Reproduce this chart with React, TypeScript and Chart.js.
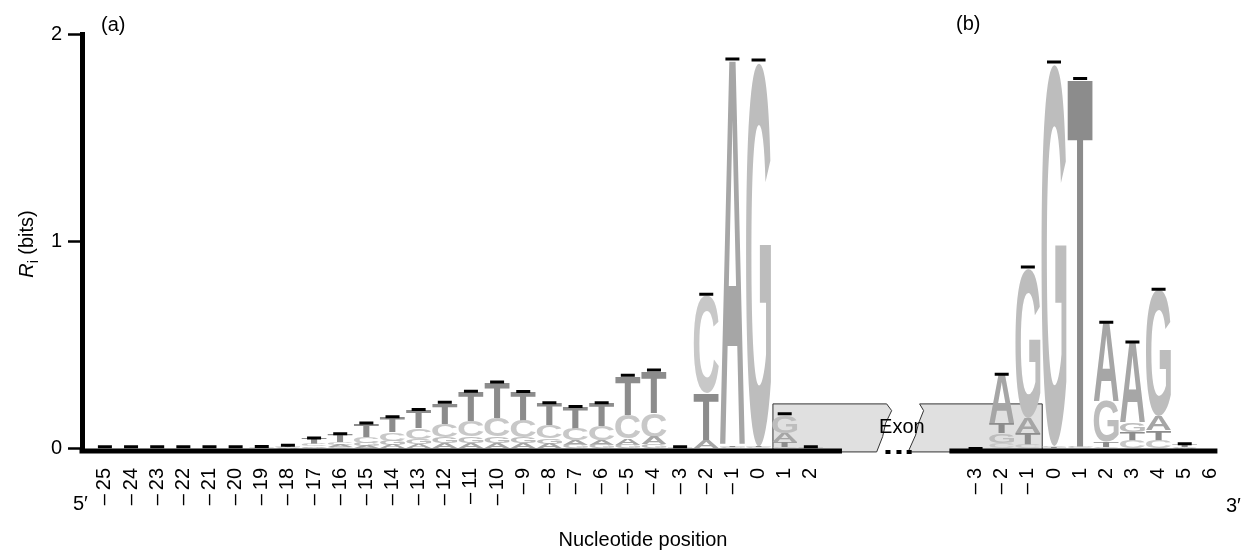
import React, { useEffect, useRef } from 'react';
import { Chart, registerables } from 'chart.js';

Chart.register(...registerables);

const FONT = '"Liberation Sans", Arial, Helvetica, sans-serif';

// ---- data ----
const LETTERS = ['A', 'C', 'G', 'T'];
const positionsA = [-25, -24, -23, -22, -21, -20, -19, -18, -17, -16, -15, -14, -13, -12, -11, -10, -9, -8, -7, -6, -5, -4, -3, -2, -1, 0, 1, 2];
const positionsB = [-3, -2, -1, 0, 1, 2, 3, 4, 5, 6];

// panel (a) information content per base (bits)
const aA = [0.001, 0.001, 0.001, 0.001, 0.001, 0.001, 0.002, 0.003, 0.008, 0.012, 0.013, 0.018, 0.022, 0.027, 0.028, 0.028, 0.026, 0.024, 0.022, 0.024, 0.03, 0.035, 0.002, 0.035, 1.86, 0.003, 0.04, 0.002];
const aC = [0.001, 0.001, 0.001, 0.001, 0.001, 0.002, 0.002, 0.004, 0.01, 0.015, 0.028, 0.04, 0.052, 0.063, 0.075, 0.09, 0.08, 0.063, 0.058, 0.067, 0.115, 0.115, 0.002, 0.47, 0.004, 0.004, 0.01, 0.002];
const aG = [0.001, 0.001, 0.001, 0.001, 0.001, 0.001, 0.001, 0.002, 0.005, 0.008, 0.016, 0.022, 0.027, 0.031, 0.032, 0.032, 0.029, 0.026, 0.018, 0.018, 0.02, 0.022, 0.002, 0.003, 0.004, 1.85, 0.08, 0.002];
const aT = [0.002, 0.002, 0.002, 0.002, 0.002, 0.002, 0.003, 0.006, 0.028, 0.036, 0.064, 0.072, 0.088, 0.1, 0.14, 0.17, 0.14, 0.107, 0.105, 0.11, 0.183, 0.2, 0.003, 0.23, 0.004, 0.004, 0.025, 0.003];
const aErr = [0.01, 0.01, 0.01, 0.01, 0.01, 0.01, 0.012, 0.018, 0.053, 0.073, 0.125, 0.155, 0.19, 0.225, 0.278, 0.322, 0.277, 0.222, 0.205, 0.222, 0.355, 0.38, 0.01, 0.745, 1.88, 1.875, 0.17, 0.01];

// panel (b)
const bA = [0.001, 0.235, 0.075, 0.004, 0.003, 0.38, 0.385, 0.07, 0.003, 0];
const bC = [0.001, 0.03, 0.02, 0.006, 0.004, 0.01, 0.038, 0.04, 0.005, 0];
const bG = [0.001, 0.045, 0.72, 1.84, 0.004, 0.195, 0.045, 0.61, 0.002, 0];
const bT = [0.001, 0.05, 0.055, 0.004, 1.78, 0.025, 0.042, 0.05, 0.012, 0];
const bErr = [0.002, 0.36, 0.877, 1.865, 1.785, 0.61, 0.515, 0.77, 0.025, null];

const yTickValues = [0, 1, 2];
const yTickLabels = ['0', '1', '2'];

// ---- layout constants ----
const PANEL_B_OFFSET = 33.3; // slot of first panel-(b) position
const COLORS: Record<string, string> = { A: '#a6a6a6', C: '#c8c8c8', G: '#bdbdbd', T: '#8c8c8c' };

const slotsA = positionsA.map((_, i) => i);
const slotsB = positionsB.map((_, i) => PANEL_B_OFFSET + i);
const allSlots = [...slotsA, ...slotsB];
const allPositions = [...positionsA, ...positionsB];
const xLabels = allPositions.map((p) => (p < 0 ? '\u2013\u2009' + Math.abs(p) : String(p)));
const values: Record<string, number[]> = {
  A: [...aA, ...bA],
  C: [...aC, ...bC],
  G: [...aG, ...bG],
  T: [...aT, ...bT],
};
const errAll = [...aErr, ...bErr];

function buildRankDatasets() {
  const data: { x: number; y: number }[][] = [[], [], [], []];
  const letters: string[][] = [[], [], [], []];
  allSlots.forEach((s, i) => {
    const sorted = LETTERS.map((L) => ({ L, v: values[L][i] })).sort((a, b) => a.v - b.v);
    sorted.forEach((o, r) => {
      data[r].push({ x: s, y: o.v });
      letters[r].push(o.L);
    });
  });
  return data.map((d, r) => ({
    type: 'bar' as const,
    label: 'rank' + r,
    data: d,
    letters: letters[r],
    backgroundColor: 'rgba(0,0,0,0)',
    borderWidth: 0,
    barThickness: 25,
    stack: 'logo',
    order: 1,
  }));
}

function drawGlyph(ctx: CanvasRenderingContext2D, L: string, left: number, top: number, w: number, h: number, color: string) {
  ctx.save();
  ctx.font = 'bold 200px ' + FONT;
  ctx.textAlign = 'left';
  ctx.textBaseline = 'alphabetic';
  const m = ctx.measureText(L);
  const gw = m.actualBoundingBoxLeft + m.actualBoundingBoxRight;
  const gh = m.actualBoundingBoxAscent + m.actualBoundingBoxDescent;
  ctx.translate(left, top);
  ctx.scale(w / gw, h / gh);
  ctx.fillStyle = color;
  ctx.fillText(L, m.actualBoundingBoxLeft, m.actualBoundingBoxAscent);
  ctx.restore();
}

const logoPlugin = {
  id: 'logoPlugin',
  beforeDatasetsDraw(chart: any) {
    const { ctx, scales } = chart;
    const xs = scales.x, ys = scales.y;
    const top = ys.getPixelForValue(0.217);
    const bottom = ys.getPixelForValue(-0.0145);
    const hgt = bottom - top;
    // exon box (a): left straight edge, right jagged edge
    const aLeft = xs.getPixelForValue(25.55);
    const aRight = xs.getPixelForValue(29.9);
    const jagA = [[0, 0], [5, 0.14], [-1, 0.4], [-4, 0.68], [-10, 1]];
    ctx.save();
    ctx.fillStyle = '#e0e0e0';
    ctx.strokeStyle = '#333';
    ctx.lineWidth = 1;
    ctx.beginPath();
    ctx.moveTo(aLeft, bottom);
    ctx.lineTo(aLeft, top);
    jagA.forEach(([dx, f]) => ctx.lineTo(aRight + dx, top + f * hgt));
    ctx.closePath();
    ctx.fill();
    ctx.stroke();
    // exon box (b): left jagged edge, right straight edge
    const bLeft = xs.getPixelForValue(31.16);
    const bRight = xs.getPixelForValue(35.85);
    const jagB = [[0, 0], [4, 0.14], [-1, 0.4], [-4, 0.65], [-11.5, 1]];
    ctx.beginPath();
    jagB.forEach(([dx, f], k) => (k === 0 ? ctx.moveTo(bLeft + dx, top + f * hgt) : ctx.lineTo(bLeft + dx, top + f * hgt)));
    ctx.lineTo(bRight, bottom);
    ctx.lineTo(bRight, top);
    ctx.closePath();
    ctx.fill();
    ctx.stroke();
    ctx.restore();
  },
  afterDatasetDraw(chart: any, args: any) {
    const ds = chart.data.datasets[args.index];
    if (!ds.letters) return;
    const ctx = chart.ctx;
    args.meta.data.forEach((el: any, j: number) => {
      const L = ds.letters[j];
      const t = Math.min(el.y, el.base);
      const b = Math.max(el.y, el.base);
      const h = b - t;
      if (h < 0.4) return;
      drawGlyph(ctx, L, el.x - el.width / 2, t, el.width, h, COLORS[L]);
    });
  },
  afterDraw(chart: any) {
    const { ctx, scales, chartArea } = chart;
    const xs = scales.x, ys = scales.y;
    ctx.save();
    // thick baselines
    const yb = ys.getPixelForValue(-0.01);
    ctx.fillStyle = '#000';
    const aEnd = xs.getPixelForValue(28.19);
    const bStart = xs.getPixelForValue(32.3);
    ctx.fillRect(chartArea.left - 2.5, yb - 2.5, aEnd - chartArea.left + 2.5, 5);
    ctx.fillRect(bStart, yb - 2.5, chartArea.right - bStart, 5);
    // dots between panels
    [29.95, 30.37, 30.76].forEach((s) => {
      const x = xs.getPixelForValue(s);
      ctx.fillRect(x - 2.5, yb - 1, 5, 4);
    });
    // Exon text
    ctx.font = '20px ' + FONT;
    ctx.fillStyle = '#000';
    ctx.textAlign = 'center';
    ctx.textBaseline = 'middle';
    ctx.fillText('Exon', xs.getPixelForValue(30.48), ys.getPixelForValue(0.105));
    // panel labels
    ctx.textAlign = 'left';
    ctx.fillText('(a)', 101, 25);
    ctx.fillText('(b)', 956, 24);
    // 5' and 3'
    ctx.fillText('5\u2032', 73, 504);
    ctx.fillText('3\u2032', 1226, 506);
    // x title
    ctx.textAlign = 'center';
    ctx.textBaseline = 'alphabetic';
    ctx.fillText('Nucleotide position', 643, 546);
    // y title: R_i (bits)
    ctx.translate(33, 244);
    ctx.rotate(-Math.PI / 2);
    ctx.textAlign = 'left';
    ctx.font = 'italic 20px ' + FONT;
    const wR = ctx.measureText('R').width;
    ctx.font = '14px ' + FONT;
    const wi = ctx.measureText('i').width;
    ctx.font = '20px ' + FONT;
    const wRest = ctx.measureText(' (bits)').width;
    const total = wR + wi + wRest;
    let x0 = -total / 2;
    ctx.font = 'italic 20px ' + FONT;
    ctx.fillText('R', x0, 0);
    x0 += wR;
    ctx.font = '14px ' + FONT;
    ctx.fillText('i', x0, 5);
    x0 += wi;
    ctx.font = '20px ' + FONT;
    ctx.fillText(' (bits)', x0, 0);
    ctx.restore();
  },
};

export default function App() {
  const ref = useRef<HTMLCanvasElement | null>(null);
  useEffect(() => {
    if (!ref.current) return;
    const errData = allSlots
      .map((s, i) => ({ x: s, y: errAll[i] }))
      .filter((p) => p.y !== null) as { x: number; y: number }[];
    const chart = new Chart(ref.current, {
      type: 'bar',
      data: {
        datasets: [
          ...buildRankDatasets(),
          {
            type: 'scatter',
            label: 'error',
            data: errData,
            pointStyle: 'line',
            radius: 7,
            borderWidth: 3,
            borderColor: '#000',
            backgroundColor: '#000',
            stack: 'err',
            order: 0,
          } as any,
        ],
      } as any,
      options: {
        responsive: false,
        animation: false,
        events: [],
        layout: { padding: { top: 34, right: 22, left: 0, bottom: 0 } },
        plugins: { legend: { display: false }, tooltip: { enabled: false } },
        scales: {
          x: {
            type: 'linear',
            min: -0.876,
            max: 42.55,
            offset: false,
            stacked: true,
            grid: { display: false },
            border: { display: false },
            afterBuildTicks: (s: any) => {
              s.ticks = allSlots.map((v) => ({ value: v }));
            },
            afterFit: (s: any) => {
              s.height = 100;
            },
            ticks: {
              autoSkip: false,
              minRotation: 90,
              maxRotation: 90,
              padding: 9,
              color: '#000',
              font: { family: FONT, size: 20 },
              callback: (_v: any, i: number) => xLabels[i],
            },
          },
          y: {
            type: 'linear',
            min: -0.01,
            max: 2,
            stacked: true,
            afterBuildTicks: (s: any) => {
              s.ticks = yTickValues.map((v) => ({ value: v }));
            },
            afterFit: (s: any) => {
              s.width = 82;
            },
            grid: { drawOnChartArea: false, drawTicks: true, tickLength: 14, tickWidth: 2.5, tickColor: '#000' },
            border: { display: true, width: 5, color: '#000' },
            ticks: {
              padding: 6,
              color: '#000',
              font: { family: FONT, size: 20 },
              callback: (v: any) => yTickLabels[yTickValues.indexOf(Number(v))],
            },
          },
        },
      } as any,
      plugins: [logoPlugin],
    });
    return () => chart.destroy();
  }, []);
  return (
    <div style={{ position: 'absolute', left: 0, top: 0, width: 1244, height: 551, background: '#fff' }}>
      <canvas ref={ref} width={1244} height={551} style={{ display: 'block' }} />
    </div>
  );
}
